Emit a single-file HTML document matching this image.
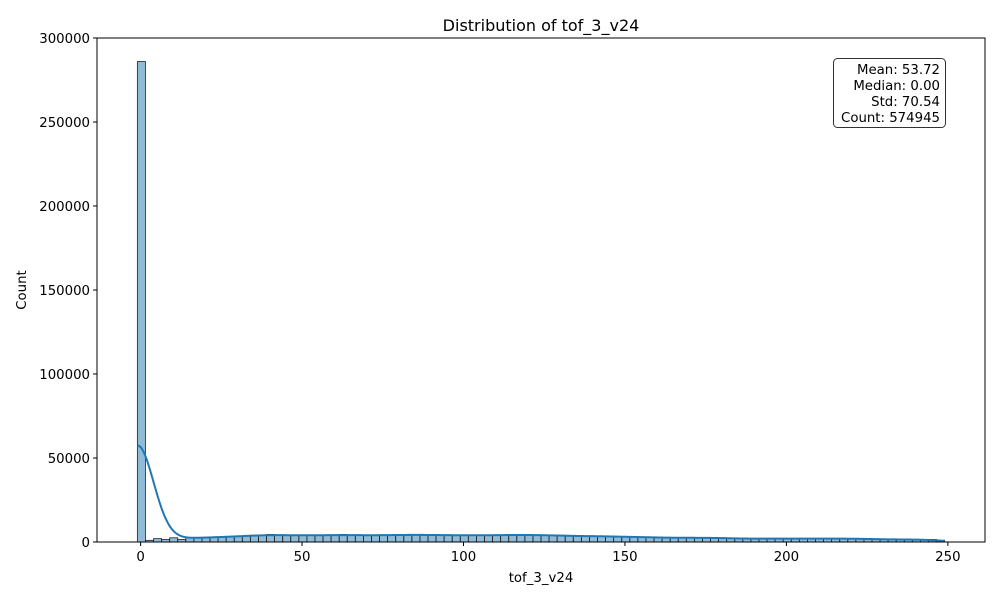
<!DOCTYPE html>
<html><head><meta charset="utf-8"><style>
body{margin:0;background:#fff;font-family:"DejaVu Sans","Liberation Sans",sans-serif}
svg text{font-family:"DejaVu Sans","Liberation Sans",sans-serif;fill:#000}
</style></head><body>
<svg id="chart" width="1000" height="600" viewBox="0 0 1000 600" xmlns="http://www.w3.org/2000/svg">
<rect width="1000" height="600" fill="#fff"/>
<text x="541" y="31" font-size="16" text-anchor="middle">Distribution of tof_3_v24</text>
<g id="bars"></g>
<path id="kde" fill="none" stroke="#1f77b4" stroke-width="2"/>
<rect x="97" y="38" width="888" height="504" fill="none" stroke="#000" stroke-width="1"/>
<g id="xt"></g>
<g id="yt"></g>
<text x="541" y="582" font-size="13.3" text-anchor="middle">tof_3_v24</text>
<text x="26" y="290" font-size="13.3" text-anchor="middle" transform="rotate(-90 26 290)">Count</text>
<g>
<rect x="833.5" y="58.5" width="112" height="69" rx="4" fill="#fff" stroke="#000" stroke-opacity="0.8"/>
<text x="940" y="74" font-size="13.3" text-anchor="end">Mean: 53.72</text>
<text x="940" y="90" font-size="13.3" text-anchor="end">Median: 0.00</text>
<text x="940" y="106" font-size="13.3" text-anchor="end">Std: 70.54</text>
<text x="940" y="122" font-size="13.3" text-anchor="end">Count: 574945</text>
</g>
</svg>
<script>
const binStart = -1;
const binWidth = 2.5;
const counts = [286000,1000,2000,1500,2500,1500,2500,2500,2500,3000,3000,3000,3500,3500,4000,4000,4500,4000,4000,4000,4000,4000,4000,4000,4000,4500,4000,4000,4000,4000,4000,4000,4500,4000,4500,4000,4500,4000,4000,4000,4000,4000,4000,4000,4000,4000,4500,4000,4500,4000,4000,4000,4000,3500,3500,3500,3500,3500,3500,3000,3000,3000,3000,3000,2500,2500,2500,2500,2500,2500,2500,2500,2500,2000,2000,2000,2000,2000,2000,2000,2000,2000,2000,2000,2000,2000,2000,2000,2000,2000,2000,1500,1500,1500,1500,1500,1500,1500,1500,1000];
const xTicks = [0,50,100,150,200,250];
const yTicks = [0,50000,100000,150000,200000,250000,300000];
const xMin=-13.5, xMax=261.5, yMax=300000;
const L=97,R=985,T=38,B=542;
const xs=v=>L+(v-xMin)/(xMax-xMin)*(R-L);
const ys=v=>B-v/yMax*(B-T);
const NS="http://www.w3.org/2000/svg";
const bars=document.getElementById('bars');
counts.forEach((c,i)=>{
  const x0=xs(binStart+i*binWidth), x1=xs(binStart+(i+1)*binWidth);
  const r=document.createElementNS(NS,'rect');
  r.setAttribute('x',x0);r.setAttribute('y',ys(c));
  r.setAttribute('width',x1-x0);r.setAttribute('height',B-ys(c));
  r.setAttribute('fill','rgba(31,119,180,0.5)');r.setAttribute('stroke','#222');r.setAttribute('stroke-width','0.8');
  
  
  bars.appendChild(r);
});
const h=5;
let d='';
for(let k=0;k<=400;k++){
  const x=binStart+k*(binWidth*counts.length)/400;
  let s=0;
  counts.forEach((c,i)=>{
    const cx= i===0?binStart:binStart+(i+0.5)*binWidth;
    const z=(x-cx)/h; s+=c*Math.exp(-0.5*z*z)/(h*Math.sqrt(2*Math.PI));
  });
  s*=binWidth;
  d+=(k?'L':'M')+xs(x).toFixed(2)+','+ys(s).toFixed(2);
}
document.getElementById('kde').setAttribute('d',d);
const xt=document.getElementById('xt');
xTicks.forEach(v=>{
  const l=document.createElementNS(NS,'line');
  l.setAttribute('x1',xs(v));l.setAttribute('x2',xs(v));l.setAttribute('y1',B);l.setAttribute('y2',B+4);l.setAttribute('stroke','#000');
  
  
  xt.appendChild(l);
  const t=document.createElementNS(NS,'text');
  t.setAttribute('x',xs(v));t.setAttribute('y',B+19);t.setAttribute('font-size','13.3');t.setAttribute('text-anchor','middle');
  t.textContent=v;
  
  
  xt.appendChild(t);
});
const yt=document.getElementById('yt');
yTicks.forEach(v=>{
  const l=document.createElementNS(NS,'line');
  l.setAttribute('x1',L-4);l.setAttribute('x2',L);l.setAttribute('y1',ys(v));l.setAttribute('y2',ys(v));l.setAttribute('stroke','#000');
  
  
  yt.appendChild(l);
  const t=document.createElementNS(NS,'text');
  t.setAttribute('x',L-7);t.setAttribute('y',ys(v)+5);t.setAttribute('font-size','13.3');t.setAttribute('text-anchor','end');
  t.textContent=v;
  
  
  yt.appendChild(t);
});
</script>
</body></html>
